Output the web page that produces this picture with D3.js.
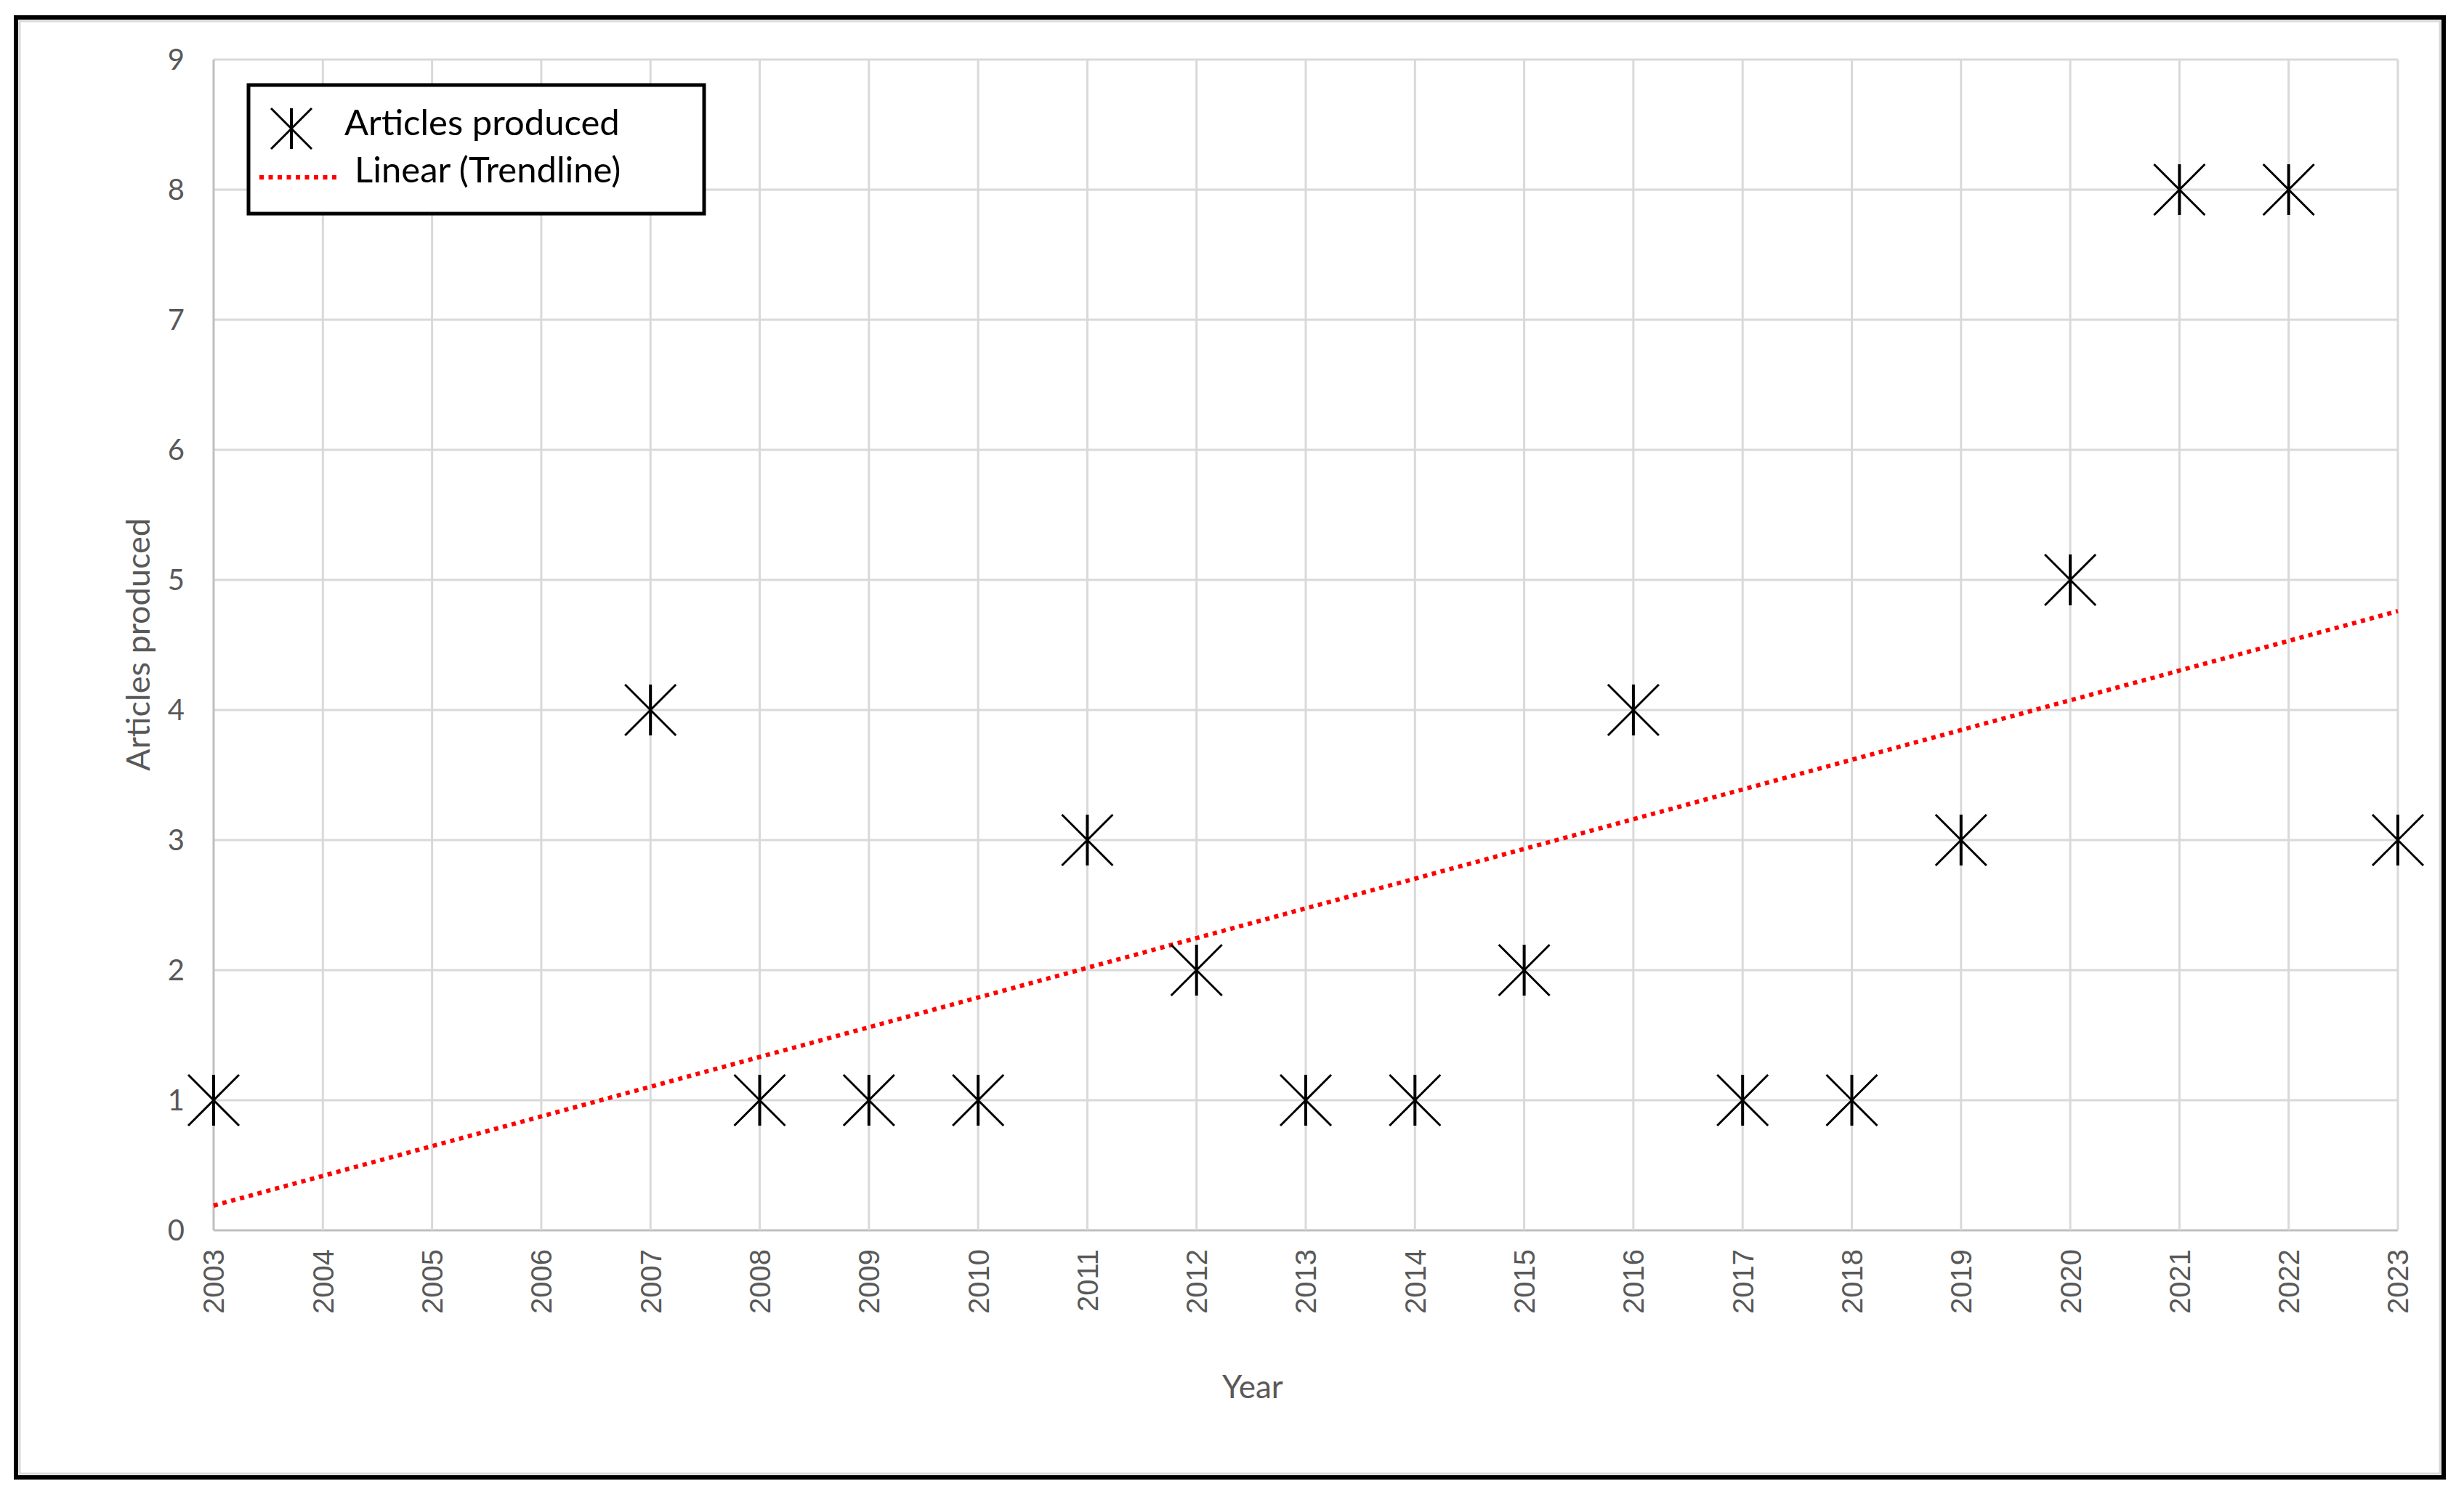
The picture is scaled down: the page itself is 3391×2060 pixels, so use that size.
<!DOCTYPE html>
<html>
<head>
<meta charset="utf-8">
<script src="https://cdn.jsdelivr.net/npm/d3@7"></script>
<style>
  body { margin: 0; background: #fff; }
  svg { display: block; }
</style>
</head>
<body>
<div id="chart"></div>
<script>
// Values
const yearLabels = ['2003', '2004', '2005', '2006', '2007', '2008', '2009', '2010', '2011', '2012',
    '2013', '2014', '2015', '2016', '2017', '2018', '2019', '2020', '2021', '2022', '2023']
const pointYears = ['2003', '2007', '2008', '2009', '2010', '2011', '2012', '2013', '2014', '2015',
    '2016', '2017', '2018', '2019', '2020', '2021', '2022', '2023']
const articles = [1, 4, 1, 1, 1, 3, 2, 1, 1, 2, 4, 1, 1, 3, 5, 8, 8, 3]
const yTicks = [0, 1, 2, 3, 4, 5, 6, 7, 8, 9]
// trendline end values, as drawn
const trendYears = ['2003', '2023']
const trendValues = [0.19, 4.76]

const W = 3391, H = 2060
const plot = {left: 294, right: 3300, top: 82, bottom: 1693}
const labelFont = 'Lato, "Open Sans", sans-serif'
const grey = '#595959'

const svg = d3.select('#chart')
    .append('svg')
        .attr('width', W)
        .attr('height', H)

// outer frame
svg.append('rect')
    .attr('x', 22).attr('y', 24)
    .attr('width', 3341).attr('height', 2009)
    .attr('fill', '#fff')
    .attr('stroke', '#000')
    .attr('stroke-width', 6)
svg.append('rect')
    .attr('x', 27).attr('y', 29)
    .attr('width', 3331).attr('height', 1999)
    .attr('fill', 'none')
    .attr('stroke', '#d9d9d9')
    .attr('stroke-width', 3)

const x = d3.scalePoint().domain(yearLabels).range([plot.left, plot.right]).padding(0)
const y = d3.scaleLinear().domain([0, 9]).range([plot.bottom, plot.top])

// gridlines
svg.append('g')
    .selectAll('line')
    .data(yTicks)
    .enter().append('line')
        .attr('x1', plot.left).attr('x2', plot.right)
        .attr('y1', d => y(d)).attr('y2', d => y(d))
        .attr('stroke', d => d === 0 ? '#bfbfbf' : '#d9d9d9')
        .attr('stroke-width', 3)

svg.append('g')
    .selectAll('line')
    .data(yearLabels)
    .enter().append('line')
        .attr('x1', d => x(d)).attr('x2', d => x(d))
        .attr('y1', plot.top).attr('y2', plot.bottom)
        .attr('stroke', (d, i) => i === 0 ? '#bfbfbf' : '#d9d9d9')
        .attr('stroke-width', 3)

// y axis labels
svg.append('g')
    .selectAll('text')
    .data(yTicks)
    .enter().append('text')
        .attr('x', plot.left - 40)
        .attr('y', d => y(d))
        .attr('dy', '0.36em')
        .attr('text-anchor', 'end')
        .attr('font-family', labelFont)
        .attr('font-size', 40)
        .attr('fill', grey)
        .text(d => d)

// x axis labels, rotated
svg.append('g')
    .selectAll('text')
    .data(yearLabels)
    .enter().append('text')
        .attr('transform', d => `translate(${x(d)}, ${plot.bottom + 26}) rotate(-90)`)
        .attr('dy', '0.36em')
        .attr('text-anchor', 'end')
        .attr('font-family', '"Liberation Sans", Arial, sans-serif')
        .attr('font-size', 40)
        .attr('fill', grey)
        .text(d => d)

// axis titles
svg.append('text')
    .attr('transform', `translate(190, 887) rotate(-90)`)
    .attr('dy', '0.36em')
    .attr('text-anchor', 'middle')
    .attr('font-family', labelFont)
    .attr('font-size', 45)
    .attr('fill', grey)
    .text('Articles produced')

svg.append('text')
    .attr('x', 1724)
    .attr('y', 1908)
    .attr('dy', '0.36em')
    .attr('text-anchor', 'middle')
    .attr('font-family', labelFont)
    .attr('font-size', 44)
    .attr('fill', grey)
    .text('Year')

// trendline
const trend = d3.line()
    .x((d, i) => x(trendYears[i]))
    .y(d => y(d))
svg.append('path')
    .attr('d', trend(trendValues))
    .attr('fill', 'none')
    .attr('stroke', '#ff0000')
    .attr('stroke-width', 6)
    .attr('stroke-dasharray', '6 6.5')

// star marker: X plus vertical stroke
const marker = (g, r) => {
    g.append('line').attr('x1', -r).attr('y1', -r).attr('x2', r).attr('y2', r)
        .attr('stroke', '#000').attr('stroke-width', 3)
    g.append('line').attr('x1', -r).attr('y1', r).attr('x2', r).attr('y2', -r)
        .attr('stroke', '#000').attr('stroke-width', 3)
    g.append('line').attr('x1', 0).attr('y1', -r).attr('x2', 0).attr('y2', r)
        .attr('stroke', '#000').attr('stroke-width', 4)
}

svg.append('g')
    .selectAll('g')
    .data(articles)
    .enter().append('g')
        .attr('transform', (d, i) => `translate(${x(pointYears[i])}, ${y(d)})`)
        .each(function () { marker(d3.select(this), 35) })

// legend
const legend = svg.append('g')
legend.append('rect')
    .attr('x', 342).attr('y', 117)
    .attr('width', 627).attr('height', 177)
    .attr('fill', '#fff')
    .attr('stroke', '#000')
    .attr('stroke-width', 5)

legend.append('g')
    .attr('transform', 'translate(401, 177)')
    .call(g => marker(g, 28))
legend.append('text')
    .attr('x', 474).attr('y', 168)
    .attr('dy', '0.36em')
    .attr('font-family', labelFont)
    .attr('font-size', 49)
    .attr('fill', '#000')
    .text('Articles produced')

legend.append('line')
    .attr('x1', 357).attr('x2', 464)
    .attr('y1', 244).attr('y2', 244)
    .attr('stroke', '#ff0000')
    .attr('stroke-width', 6)
    .attr('stroke-dasharray', '6 6.5')
legend.append('text')
    .attr('x', 488).attr('y', 233)
    .attr('dy', '0.36em')
    .attr('font-family', labelFont)
    .attr('font-size', 49)
    .attr('fill', '#000')
    .text('Linear (Trendline)')
</script>
</body>
</html>
